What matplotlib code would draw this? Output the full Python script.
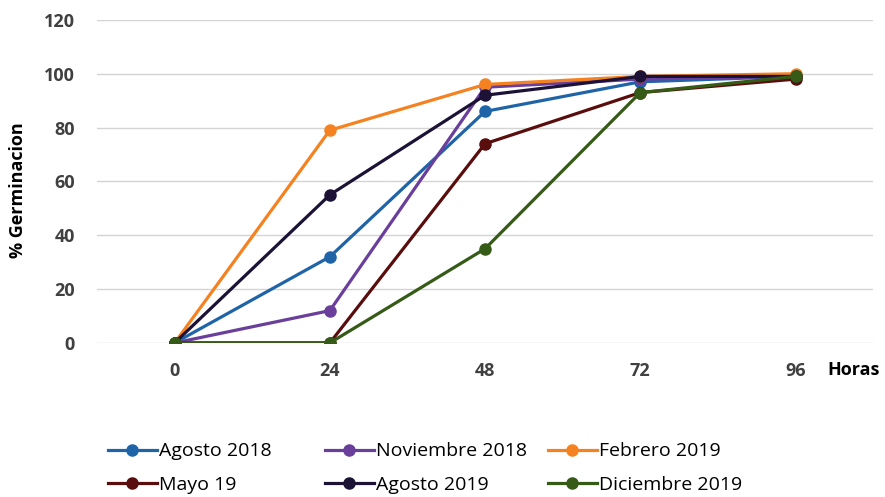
import numpy as np
import matplotlib
matplotlib.use('Agg')
import matplotlib.pyplot as plt

plt.rcParams['font.family'] = ['Open Sans', 'DejaVu Sans']

# datos
horas = [0, 24, 48, 72, 96]
agosto_2018 = [0, 32, 86, 97, 99]
noviembre_2018 = [0, 12, 95, 98, 99]
febrero_2019 = [0, 79, 96, 99, 100]
mayo_19 = [0, 0, 74, 93, 98]
agosto_2019 = [0, 55, 92, 99, 99]
diciembre_2019 = [0, 0, 35, 93, 99]

series = [('Agosto 2018', agosto_2018, '#2064a8'),
          ('Noviembre 2018', noviembre_2018, '#6a3f9c'),
          ('Febrero 2019', febrero_2019, '#f58220'),
          ('Mayo 19', mayo_19, '#5a0d0d'),
          ('Agosto 2019', agosto_2019, '#1b1236'),
          ('Diciembre 2019', diciembre_2019, '#365b17')]

fig = plt.figure(figsize=(8.85, 4.97), dpi=100)
ax = fig.add_axes([0.1096, 0.31, 0.877, 0.65])

lineas = []
for nombre, vals, col in series:
    l, = ax.plot(horas, vals, '-o', color=col, lw=2.3, ms=8, label=nombre)
    lineas.append(l)

ax.set_xlim(-12, 108)
ax.set_ylim(0, 120)
ax.set_xticks(horas)
ax.set_yticks(range(0, 121, 20))
ax.grid(axis='y', color='#d4d4d4', lw=1)
ax.set_axisbelow(True)
for s in ax.spines.values():
    s.set_visible(False)
ax.tick_params(length=0, labelsize=13, labelcolor='#404040')
for t in ax.get_xticklabels() + ax.get_yticklabels():
    t.set_fontweight('bold')
ax.tick_params(axis='x', pad=14)
ax.tick_params(axis='y', pad=16)

fig.text(18/885, 1-190/497, '% Germinacion', rotation=90, ha='center', va='center',
         fontsize=13, fontweight='bold')
fig.text(854/885, 1-370/497, 'Horas', ha='center', va='center',
         fontsize=13, fontweight='bold')

# leyenda: una columna por legend para poner cada columna donde va
cols_x = [108/885, 325/885, 548/885]
for j in range(3):
    idx = [j, j+3]
    leg = fig.legend([lineas[i] for i in idx], [series[i][0] for i in idx],
                     loc='upper left', bbox_to_anchor=(cols_x[j], 0.11),
                     frameon=False, fontsize=14, handlelength=2.5, handletextpad=0.1,
                     labelspacing=0.8, borderaxespad=0, borderpad=0)

fig.savefig('out.png', dpi=100)
